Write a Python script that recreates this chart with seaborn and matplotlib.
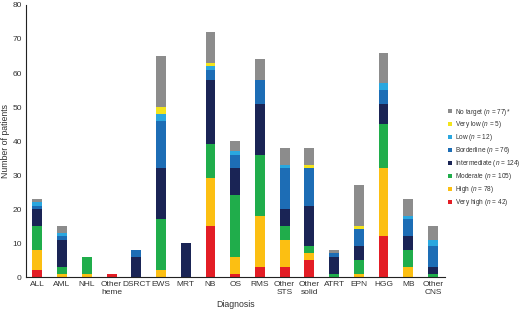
import pandas as pd
import numpy as np
import seaborn as sns
import matplotlib.pyplot as plt

# %%
diagnoses = ["ALL", "AML", "NHL", "Other\nheme", "DSRCT", "EWS", "MRT", "NB", "OS", "RMS",
             "Other\nSTS", "Other\nsolid", "ATRT", "EPN", "HGG", "MB", "Other\nCNS"]

levels = ["No target", "Very low", "Low", "Borderline", "Intermediate", "Moderate", "High", "Very high"]
level_n = ["77)*", "5)", "12)", "76)", "124)", "105)", "78)", "42)"]

# patients per diagnosis, one list per level (same order as diagnoses)
no_target    = [1, 2, 0, 0, 0, 15, 0, 9, 3, 6, 5, 5, 1, 12, 9, 5, 4]
very_low     = [0, 0, 0, 0, 0, 2, 0, 1, 0, 0, 0, 1, 0, 1, 0, 0, 0]
low          = [1, 1, 0, 0, 0, 2, 0, 1, 1, 0, 1, 0, 0, 0, 2, 1, 2]
borderline   = [1, 1, 0, 0, 2, 14, 0, 3, 4, 7, 12, 11, 1, 5, 4, 5, 6]
intermediate = [5, 8, 0, 0, 6, 15, 10, 19, 8, 15, 5, 12, 5, 4, 6, 4, 2]
moderate     = [7, 2, 5, 0, 0, 15, 0, 10, 18, 18, 4, 2, 1, 4, 13, 5, 1]
high         = [6, 1, 1, 0, 0, 2, 0, 14, 5, 15, 8, 2, 0, 1, 20, 3, 0]
very_high    = [2, 0, 0, 1, 0, 0, 0, 15, 1, 3, 3, 5, 0, 0, 12, 0, 0]

palette = ["#8c8c8c", "#f2e41c", "#2aa7df", "#1d6db5", "#1a2455", "#20ad4b", "#fcbf12", "#e31d25"]

counts = [no_target, very_low, low, borderline, intermediate, moderate, high, very_high]
df = pd.DataFrame({
    "diagnosis": np.tile(diagnoses, len(levels)),
    "level": np.repeat(levels, len(diagnoses)),
    "n": np.concatenate(counts),
})
df["diagnosis"] = pd.Categorical(df["diagnosis"], categories=diagnoses, ordered=True)

# %%
sns.set_style("white")
plt.rcParams["font.family"] = ["Liberation Sans", "DejaVu Sans"]
plt.rcParams["mathtext.fontset"] = "custom"
plt.rcParams["mathtext.it"] = "Liberation Sans:italic"
plt.rcParams["mathtext.rm"] = "Liberation Sans"

fig = plt.figure(figsize=(5.2, 3.11), dpi=100)
ax = fig.add_axes([0.05, 0.109, 0.806, 0.875])

sns.histplot(
    data=df, x="diagnosis", hue="level", weights="n",
    hue_order=levels, palette=palette,
    multiple="stack", discrete=True, shrink=0.4,
    edgecolor="none", linewidth=0, alpha=1, ax=ax,
)

ax.set_xlim(-0.46, 16.49)
ax.set_ylim(0, 80)
ax.set_yticks(range(0, 81, 10))
ax.set_xlabel("Diagnosis", fontsize=6.3, color="#333333", labelpad=3)
ax.set_ylabel("Number of patients", fontsize=6.3, color="#333333", labelpad=2)
ax.tick_params(axis="both", labelsize=6, colors="#333333", length=0, pad=3)
sns.despine(ax=ax)
for s in ["left", "bottom"]:
    ax.spines[s].set_color("#222222")
    ax.spines[s].set_linewidth(0.8)

sns.move_legend(
    ax, "center left", bbox_to_anchor=(1.0, 0.44), frameon=False, title=None,
    fontsize=4.7, handlelength=0.65, handleheight=0.65, labelspacing=0.3,
    handletextpad=0.5, borderaxespad=0,
)
leg = ax.get_legend()
for txt, lv, nn in zip(leg.get_texts(), levels, level_n):
    txt.set_text(f"{lv} ($\\it{{n}}$ = {nn}")
    txt.set_color("#333333")

fig.savefig("out.png", dpi=100)
